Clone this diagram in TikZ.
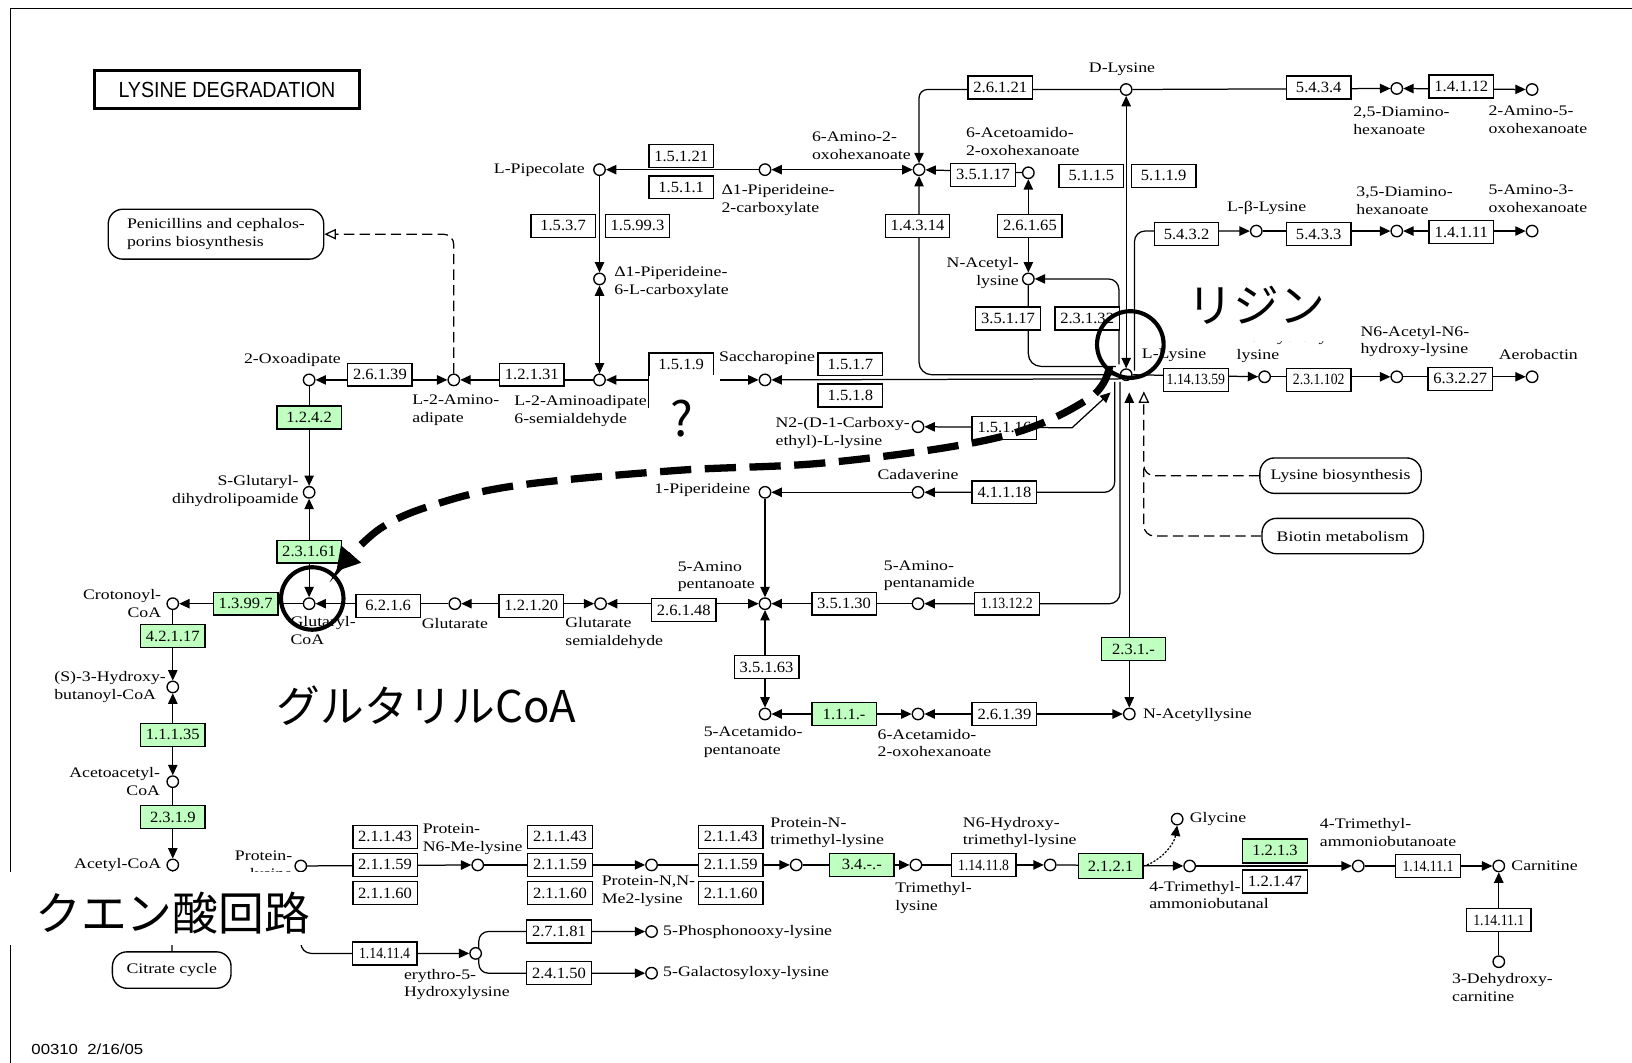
\documentclass[tikz,border=0pt]{standalone}
\usepackage{fontspec}
\setmainfont{Liberation Serif}[FakeStretch=1.22]
\newfontfamily\ecf{Liberation Serif}[FakeStretch=1.06]
\newfontfamily\ecnf{Liberation Serif}[FakeStretch=0.88]
\newfontfamily\ttlf{Liberation Sans}[FakeStretch=0.9]
\newfontfamily\jpf{Noto Sans CJK JP}
\newfontfamily\ftf{Liberation Sans}[FakeStretch=1.15]
\usetikzlibrary{arrows.meta,calc}
\definecolor{kgreen}{RGB}{191,255,191}
\pgfdeclarelayer{bg}\pgfdeclarelayer{fg}\pgfsetlayers{bg,main,fg}
\tikzset{
 cpd/.style={circle,draw,fill=white,minimum size=11pt,inner sep=0pt,line width=1.3pt},
 ecb/.style={rectangle,draw,fill=white,minimum width=62pt,minimum height=22pt,inner sep=0pt,line width=1.3pt,font=\fontsize{15}{16}\ecf},
 ecn/.style={ecb,font=\fontsize{15}{16}\ecnf},
 ecg/.style={ecb,fill=kgreen},
 lbl/.style={inner sep=0pt,font=\fontsize{14}{17}\selectfont},
 lw/.style={lbl,anchor=west,align=left},
 le/.style={lbl,anchor=east,align=right},
 mapb/.style={draw,rounded corners=14pt,line width=1.3pt,inner sep=0pt,fill=white,font=\fontsize{14}{17}\selectfont},
 ln/.style={line width=1.2pt},
 toarr/.style={ln,-{Triangle[length=10pt,width=9pt]}},
 botharr/.style={ln,{Triangle[length=10pt,width=9pt]}-{Triangle[length=10pt,width=9pt]}},
 fromarr/.style={ln,{Triangle[length=10pt,width=9pt]}-},
 dsh/.style={line width=1.2pt,dash pattern=on 10pt off 5pt},
 openarr/.style={-{Triangle[open,length=11pt,width=10pt]}},
 hlc/.style={circle,draw,line width=4pt,inner sep=0pt},
}
\begin{document}
\begin{tikzpicture}[x=1pt,y=-1pt]
\useasboundingbox (0,0) rectangle (1568,1021);
\begin{pgfonlayer}{bg}
\fill[white] (0,0) rectangle (1568,1021);
\end{pgfonlayer}
\draw[line width=1.5pt] (1568,8) -- (10,8) -- (10,1021);

% title and maps
\node[draw,line width=3pt,minimum width=254pt,minimum height=36pt,inner sep=0pt,font=\fontsize{21}{24}\ttlf] (title) at (218,86) {LYSINE DEGRADATION};
\node[mapb,minimum width=207pt,minimum height=48pt,align=left] (pen) at (207.5,225) {Penicillins and cephalos-\\porins biosynthesis};
\node[mapb,minimum width=114pt,minimum height=35pt] (cit) at (165,932) {Citrate cycle};
\node[mapb,minimum width=155pt,minimum height=34pt] (lbio) at (1288,457) {Lysine biosynthesis};
\node[mapb,minimum width=155pt,minimum height=34pt] (biot) at (1290,515) {Biotin metabolism};

% compounds
\node[cpd] (dlys) at (1082,86) {};
\node[cpd] (dah) at (1342,85) {};
\node[cpd] (a5o) at (1472,86) {};
\node[cpd] (a2o) at (883,163) {};
\node[cpd] (aao) at (988,166) {};
\node[cpd] (nacl) at (988,268) {};
\node[cpd] (llys) at (1082,360) {};
\node[cpd] (pip) at (576,163) {};
\node[cpd] (p2c) at (735,163) {};
\node[cpd] (p6c) at (576,268) {};
\node[cpd] (aas) at (576,365) {};
\node[cpd] (aad) at (436,365) {};
\node[cpd] (oxo) at (297,365) {};
\node[cpd] (sac) at (735,365) {};
\node[cpd] (sgl) at (297,473) {};
\node[cpd] (gcoa) at (297,580) {};
\node[cpd] (glut) at (437,580) {};
\node[cpd] (gsa) at (577,580) {};
\node[cpd] (apa) at (735,580) {};
\node[cpd] (pipd) at (735,473) {};
\node[cpd] (cad) at (882,473) {};
\node[cpd] (n2c) at (882,410) {};
\node[cpd] (apm) at (882,580) {};
\node[cpd] (acp) at (735,686) {};
\node[cpd] (aoh) at (882,686) {};
\node[cpd] (nal) at (1085,686) {};
\node[cpd] (blys) at (1207,222) {};
\node[cpd] (dah35) at (1342,222) {};
\node[cpd] (a3o) at (1472,222) {};
\node[cpd] (nhl) at (1215,362) {};
\node[cpd] (nahl) at (1342,362) {};
\node[cpd] (aer) at (1472,362) {};
\node[cpd] (ccoa) at (166,580) {};
\node[cpd] (hbc) at (166,660) {};
\node[cpd] (aac) at (166,751) {};
\node[cpd] (acoa) at (166,831) {};
\node[cpd] (plys) at (289,832) {};
\node[cpd] (pn6) at (459,831) {};
\node[cpd] (pnn) at (626,831) {};
\node[cpd] (pnt) at (765,831) {};
\node[cpd] (tml) at (880,831) {};
\node[cpd] (html) at (1009,831) {};
\node[cpd] (gly) at (1131,787) {};
\node[cpd] (tmab) at (1143,832) {};
\node[cpd] (tmabo) at (1305,832) {};
\node[cpd] (car) at (1440,832) {};
\node[cpd] (dhc) at (1440,924) {};
\node[cpd] (hyl) at (457,916) {};
\node[cpd] (phl) at (626,895) {};
\node[cpd] (gal) at (626,935) {};

% free ends
\coordinate (lk1) at (1072,352);
\coordinate (lk2) at (1075,350);
\coordinate (lk3) at (1090,356);
\coordinate (lk4) at (1071,367);
\coordinate (lk5) at (1076,367);
\coordinate (lk6) at (1067,377);
\coordinate (lk7) at (1085,377);
\coordinate (lk8) at (1099,376);
\coordinate (lk9) at (1099,450);
\coordinate (lk10) at (623.5,365);
\coordinate (lk11) at (692,365);
\coordinate (lk12) at (1077.5,364);
\coordinate (lk13) at (1030,411);

% enzymes
\node[ecb] (e26121) at (961,84) {2.6.1.21};
\node[ecb] (e5434) at (1267,84) {5.4.3.4};
\node[ecb] (e14112) at (1404,83) {1.4.1.12};
\node[ecb] (e35117) at (944.5,168) {3.5.1.17};
\node[ecb] (e5115) at (1048.5,169) {5.1.1.5};
\node[ecb] (e5119) at (1118,169) {5.1.1.9};
\node[ecb] (e14314) at (881.5,217) {1.4.3.14};
\node[ecb] (e26165) at (989.5,217) {2.6.1.65};
\node[ecb] (e35117b) at (968.5,306) {3.5.1.17};
\node[ecb] (e23132) at (1044.5,306) {2.3.1.32};
\node[ecb] (e15121) at (654.5,150) {1.5.1.21};
\node[ecb] (e1511) at (654.5,180) {1.5.1.1};
\node[ecb] (e1537) at (541,217) {1.5.3.7};
\node[ecb] (e15993) at (612.5,217) {1.5.99.3};
\node[ecb] (e1519) at (654.5,350) {1.5.1.9};
\node[ecb] (e1517) at (817,350) {1.5.1.7};
\node[ecb] (e1518) at (817,380) {1.5.1.8};
\node[ecb] (e12131) at (511,360) {1.2.1.31};
\node[ecb] (e26139) at (365,360) {2.6.1.39};
\node[ecg] (e1242) at (297,401) {1.2.4.2};
\node[ecg] (e23161) at (297,530) {2.3.1.61};
\node[ecg] (e13997) at (236,580) {1.3.99.7};
\node[ecb] (e6216) at (373,582) {6.2.1.6};
\node[ecb] (e12120) at (510.5,582) {1.2.1.20};
\node[ecb] (e26148) at (657,586) {2.6.1.48};
\node[ecb] (e35130) at (811,580) {3.5.1.30};
\node[ecn] (e113122) at (967.5,580) {1.13.12.2};
\node[ecb] (e15116) at (965,411) {1.5.1.16};
\node[ecb] (e41118) at (965,473) {4.1.1.18};
\node[ecb] (e35163) at (736.5,641) {3.5.1.63};
\node[ecg] (e111x) at (811,686) {1.1.1.-};
\node[ecb] (e26139b) at (965,686) {2.6.1.39};
\node[ecg] (e231x) at (1089,623.5) {2.3.1.-};
\node[ecb] (e5432) at (1140,225) {5.4.3.2};
\node[ecb] (e5433) at (1267,225) {5.4.3.3};
\node[ecb] (e14111) at (1404,223) {1.4.1.11};
\node[ecn] (e1141359) at (1149,365) {1.14.13.59};
\node[ecn] (e231102) at (1267,365) {2.3.1.102};
\node[ecb] (e63227) at (1403,364) {6.3.2.27};
\node[ecg] (e42117) at (166,611) {4.2.1.17};
\node[ecg] (e11135) at (166,706) {1.1.1.35};
\node[ecg] (e2319) at (166,785) {2.3.1.9};
\node[ecb] (ea43) at (370,804) {2.1.1.43};
\node[ecb] (ea59) at (370,831) {2.1.1.59};
\node[ecb] (ea60) at (370,858) {2.1.1.60};
\node[ecb] (eb43) at (538,804) {2.1.1.43};
\node[ecb] (eb59) at (538,831) {2.1.1.59};
\node[ecb] (eb60) at (538,858) {2.1.1.60};
\node[ecb] (ec43) at (702,804) {2.1.1.43};
\node[ecb] (ec59) at (702,831) {2.1.1.59};
\node[ecb] (ec60) at (702,858) {2.1.1.60};
\node[ecg] (e34xx) at (828,831) {3.4.-.-};
\node[ecn] (e114118) at (945,831) {1.14.11.8};
\node[ecg,minimum height=24pt] (e2121) at (1067,832) {2.1.2.1};
\node[ecg,minimum height=23pt] (e1213) at (1225,817.5) {1.2.1.3};
\node[ecb] (e12147) at (1225,847) {1.2.1.47};
\node[ecn] (e114111) at (1372,832) {1.14.11.1};
\node[ecn] (e114111b) at (1440,884) {1.14.11.1};
\node[ecn] (e114114) at (369.5,916) {1.14.11.4};
\node[ecb] (e27181) at (537,895) {2.7.1.81};
\node[ecb] (e24150) at (537,935) {2.4.1.50};

% labels
\node[lbl] (t-dlys) at (1078,67) {D-Lysine};
\node[lw] (t-dah) at (1300,116) {2,5-Diamino-\\hexanoate};
\node[lw] (t-a5o) at (1430,115) {2-Amino-5-\\oxohexanoate};
\node[lw] (t-a2o) at (780,140) {6-Amino-2-\\oxohexanoate};
\node[lw] (t-aao) at (928,136) {6-Acetoamido-\\2-oxohexanoate};
\node[le] (t-pip) at (562,163) {L-Pipecolate};
\node[lw] (t-p2c) at (693,192) {Δ1-Piperideine-\\2-carboxylate};
\node[lw] (t-p6c) at (590,271) {Δ1-Piperideine-\\6-L-carboxylate};
\node[lbl] (t-oxo) at (281,346) {2-Oxoadipate};
\node[lw] (t-aad) at (396,394) {L-2-Amino-\\adipate};
\node[lw] (t-aas) at (494,395) {L-2-Aminoadipate\\6-semialdehyde};
\node[lbl] (t-sac) at (737,344) {Saccharopine};
\node[le] (t-nacl) at (979,262) {N-Acetyl-\\lysine};
\node[lbl] (t-llys) at (1128,341) {L-Lysine};
\node[lw] (t-nhl) at (1188,333.5) {N6-Hydroxy-\\lysine};
\node[lw] (t-nahl) at (1307,328) {N6-Acetyl-N6-\\hydroxy-lysine};
\node[lbl] (t-aer) at (1478,341) {Aerobactin};
\node[lbl] (t-blys) at (1217,200) {L-β-Lysine};
\node[lw] (t-dah35) at (1303,193) {3,5-Diamino-\\hexanoate};
\node[lw] (t-a3o) at (1430,191) {5-Amino-3-\\oxohexanoate};
\node[lw] (t-n2c) at (745,416) {N2-(D-1-Carboxy-\\ethyl)-L-lysine};
\node[lbl] (t-cad) at (882,456) {Cadaverine};
\node[le] (t-pipd) at (721,471) {1-Piperideine};
\node[le] (t-sgl) at (287,472) {S-Glutaryl-\\dihydrolipoamide};
\node[le] (t-ccoa) at (155,580) {Crotonoyl-\\CoA};
\node[lw] (t-gcoa) at (279,606) {Glutaryl-\\CoA};
\node[lbl] (t-glut) at (437,599) {Glutarate};
\node[lw] (t-gsa) at (543,608) {Glutarate\\semialdehyde};
\node[lw] (t-apa) at (651,554) {5-Amino\\pentanoate};
\node[lw] (t-apm) at (849,553) {5-Amino-\\pentanamide};
\node[lw] (t-acp) at (676,713) {5-Acetamido-\\pentanoate};
\node[lw] (t-aoh) at (843,714) {6-Acetamido-\\2-oxohexanoate};
\node[lw] (t-nal) at (1098,687) {N-Acetyllysine};
\node[lw] (t-hbc) at (52,660) {(S)-3-Hydroxy-\\butanoyl-CoA};
\node[le] (t-aac) at (154,751) {Acetoacetyl-\\CoA};
\node[le] (t-acoa) at (155,831) {Acetyl-CoA};
\node[le] (t-plys) at (281,832) {Protein-\\lysine};
\node[lw] (t-pn6) at (406,806) {Protein-\\N6-Me-lysine};
\node[lw] (t-pnn) at (578,856) {Protein-N,N-\\Me2-lysine};
\node[lw] (t-pnt) at (740,800) {Protein-N-\\trimethyl-lysine};
\node[lw] (t-tml) at (860,863) {Trimethyl-\\lysine};
\node[lw] (t-html) at (925,800) {N6-Hydroxy-\\trimethyl-lysine};
\node[lw] (t-gly) at (1143,787) {Glycine};
\node[lw] (t-tmab) at (1104,860) {4-Trimethyl-\\ammoniobutanal};
\node[lw] (t-tmabo) at (1268,800) {4-Trimethyl-\\ammoniobutanoate};
\node[lw] (t-car) at (1452,832) {Carnitine};
\node[lw] (t-dhc) at (1395,949) {3-Dehydroxy-\\carnitine};
\node[lw] (t-hyl) at (388,946) {erythro-5-\\Hydroxylysine};
\node[lw] (t-phl) at (637,895) {5-Phosphonooxy-lysine};
\node[lw] (t-gal) at (637,935) {5-Galactosyloxy-lysine};
\node[anchor=west,inner sep=0pt,font=\fontsize{14}{15}\ftf] (foot) at (30,1008) {00310\ \ 2/16/05};

% connectors
\begin{pgfonlayer}{bg}
\draw[toarr,rounded corners=8pt] (dlys) -| (a2o);
\draw[toarr] (dlys) -- (dah);
\draw[botharr] (dah) -- (a5o);
\draw[botharr] (p2c) -- (a2o);
\draw[toarr] (p2c) -- (pip);
\draw[toarr] (aao) -- (a2o);
\draw[toarr,rounded corners=12pt] (llys) -| (a2o);
\draw[botharr] (nacl) -- (aao);
\draw[ln,rounded corners=12pt] (nacl) |- (lk1);
\draw[toarr,rounded corners=10pt] (lk2) |- (nacl);
\draw[botharr] (llys) -- (dlys);
\draw[toarr,rounded corners=10pt] (lk3) |- (blys);
\draw[toarr] (blys) -- (dah35);
\draw[botharr] (dah35) -- (a3o);
\draw[toarr] (llys) -- (nhl);
\draw[toarr] (nhl) -- (nahl);
\draw[toarr] (nahl) -- (aer);
\draw[toarr] (pip) -- (p6c);
\draw[botharr] (p6c) -- (aas);
\draw[fromarr] (aas) -- (lk10);
\draw[toarr] (lk11) -- (sac);
\draw[fromarr] (sac) -- (lk12);
\draw[toarr] (aas) -- (aad);
\draw[botharr] (aad) -- (oxo);
\draw[toarr] (oxo) -- (sgl);
\draw[botharr] (gcoa) -- (sgl);
\draw[toarr] (gcoa) -- (ccoa);
\draw[toarr] (glut) -- (gcoa);
\draw[botharr] (gsa) -- (glut);
\draw[botharr] (apa) -- (gsa);
\draw[toarr] (pipd) -- (apa);
\draw[toarr] (cad) -- (pipd);
\draw[toarr,rounded corners=10pt] (lk4) |- (cad);
\draw[botharr] (n2c) -- (lk13) -- (lk6);
\draw[toarr,rounded corners=10pt] (lk5) |- (apm);
\draw[toarr] (apm) -- (apa);
\draw[botharr] (apa) -- (acp);
\draw[botharr] (acp) -- (aoh);
\draw[botharr] (aoh) -- (nal);
\draw[botharr] (lk7) -- (nal);
\draw[dsh,openarr,rounded corners=10pt] (lbio) -| (lk8);
\draw[dsh,rounded corners=10pt] (biot) -| (lk9);
\draw[dsh,openarr,rounded corners=10pt] (aad) |- (pen);
\draw[toarr] (ccoa) -- (hbc);
\draw[botharr] (aac) -- (hbc);
\draw[toarr] (aac) -- (acoa);
\draw[ln] (acoa) -- (cit);
\draw[toarr] (plys) -- (pn6);
\draw[toarr] (pn6) -- (pnn);
\draw[toarr] (pnn) -- (pnt);
\draw[toarr] (pnt) -- (tml);
\draw[toarr] (tml) -- (html);
\draw[toarr] (html) -- (tmab);
\draw[toarr] (tmab) -- (tmabo);
\draw[toarr] (tmabo) -- (car);
\draw[toarr] (dhc) -- (car);
\draw[toarr,rounded corners=10pt] (plys) |- (hyl);
\draw[toarr,rounded corners=9pt] (hyl.60) |- (phl);
\draw[toarr,rounded corners=9pt] (hyl.-60) |- (gal);
\draw[ln,dash pattern=on 2pt off 1.5pt,-{Triangle[length=10pt,width=9pt]}] (e2121.east) .. controls (1114,828) and (1128,812) .. (gly.south);
\end{pgfonlayer}

% overlays
\begin{pgfonlayer}{fg}
\fill[white] (624.3,360.4) rectangle (692,432);
\draw[line width=1.3pt] (e1519.south west) -- ++(0,30);
\node[font=\fontsize{46}{46}\jpf,inner sep=0pt] (qm) at (655,402) {?};
\fill[white] (1140,262) rectangle (1285,328);
\node[font=\fontsize{44}{44}\jpf,inner sep=0pt] (jlys) at (1207,293) {リジン};
\node[font=\fontsize{42}{42}\jpf,inner sep=0pt] (jglu) at (410,678) {グルタリルCoA};
\fill[white] (0,838) rectangle (308,908);
\node[font=\fontsize{44}{44}\jpf,inner sep=0pt] (jcit) at (166,877) {クエン酸回路};
\node[hlc,minimum size=64pt] (hl1) at (1086,331) {};
\node[hlc,minimum size=60pt] (hl2) at (300,575) {};
\draw[line width=7pt,dash pattern=on 30pt off 13pt,-{Triangle[length=22pt,width=24pt]}]
  plot[smooth,tension=0.6] coordinates {(1066,352) (1046,383) (960,420) (800,444) (650,452) (500,466) (420,484) (365,508) (323,549)};
\end{pgfonlayer}
\end{tikzpicture}
\end{document}
